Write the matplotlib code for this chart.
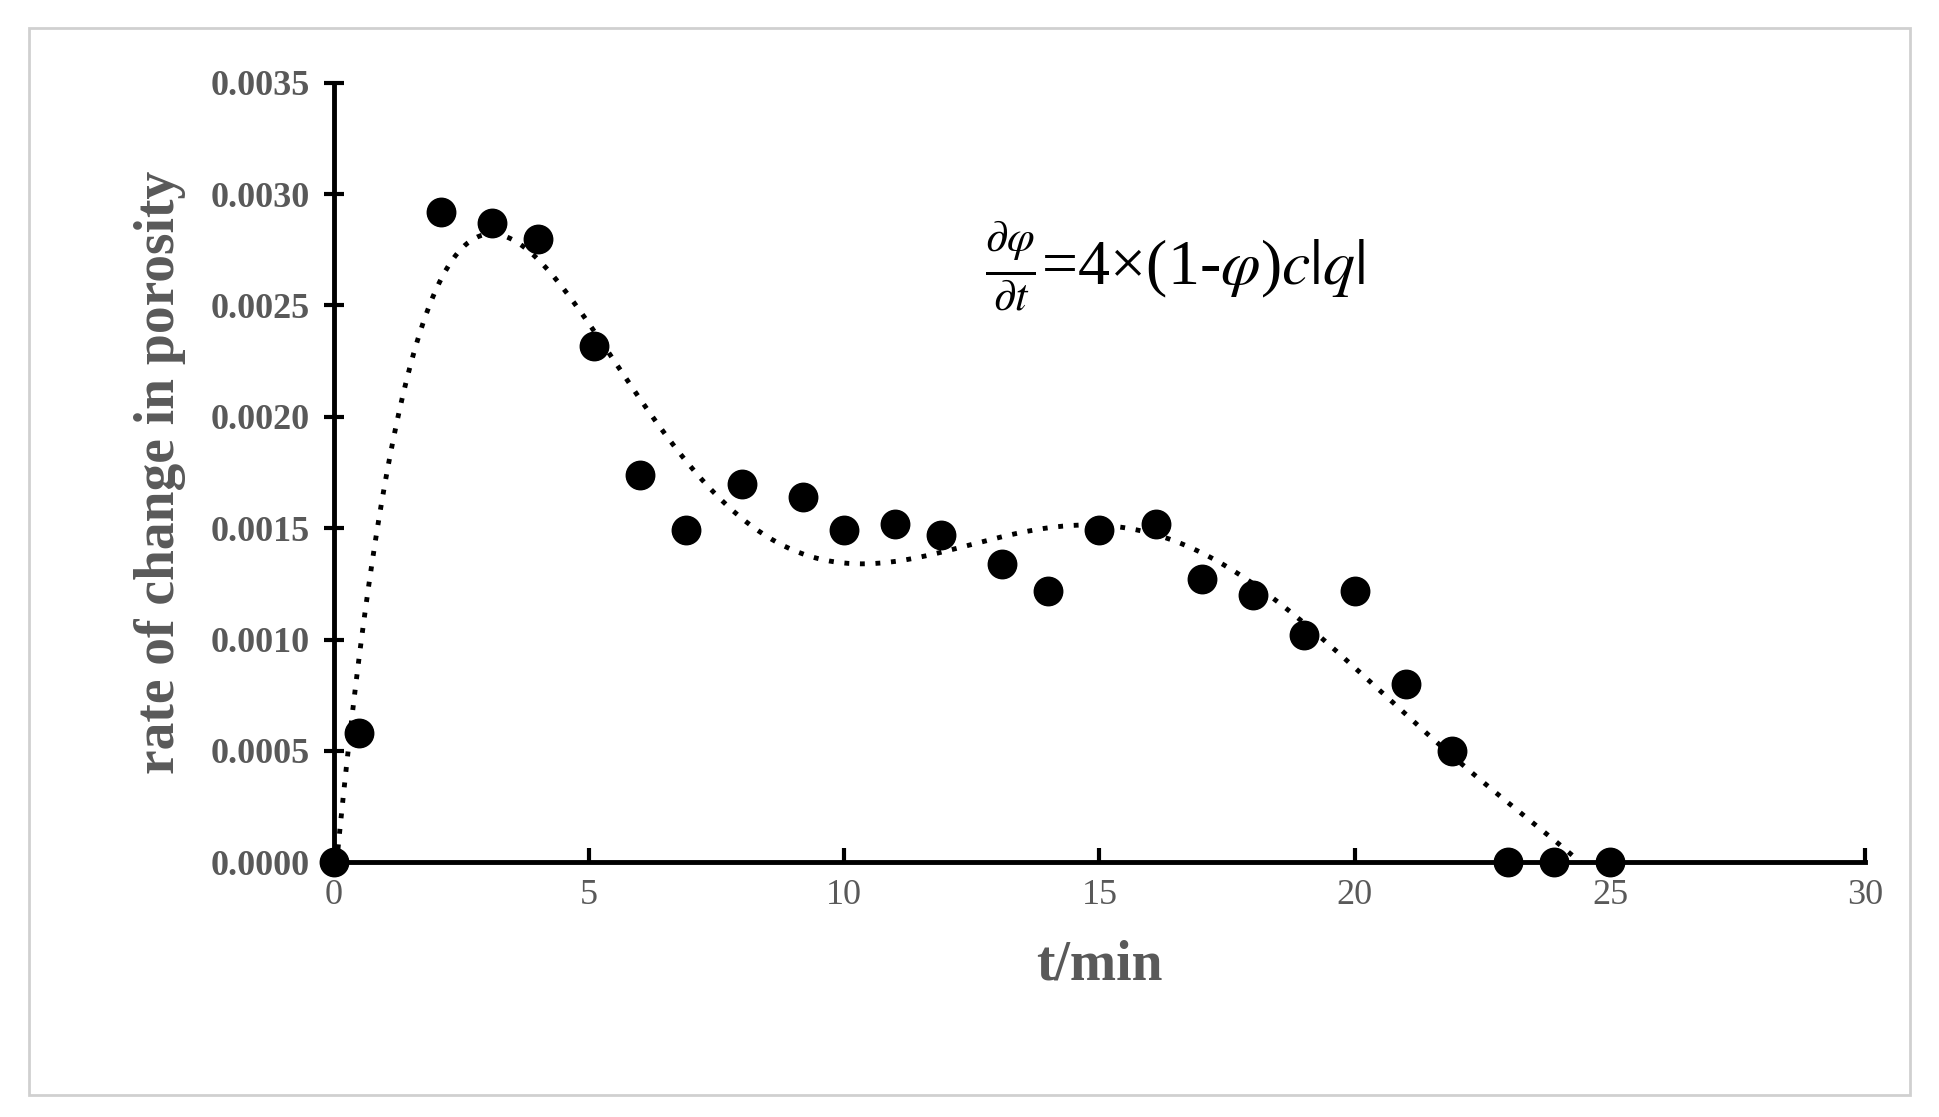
import numpy as np
import matplotlib
matplotlib.use("Agg")
import matplotlib.pyplot as plt
from matplotlib.patches import Rectangle

t_min = [0, 0.5, 2.1, 3.1, 4.0, 5.1, 6.0, 6.9, 8.0, 9.2, 10.0, 11.0, 11.9,
         13.1, 14.0, 15.0, 16.1, 17.0, 18.0, 19.0, 20.0, 21.0, 21.9, 23.0, 23.9, 25.0]
rate = [0.0, 0.00058, 0.00292, 0.00287, 0.00280, 0.00232, 0.00174, 0.00149,
        0.00170, 0.00164, 0.00149, 0.00152, 0.00147, 0.00134, 0.00122, 0.00149,
        0.00152, 0.00127, 0.00120, 0.00102, 0.00122, 0.00080, 0.00050, 0.0, 0.0, 0.0]

plt.rcParams["font.family"] = ["Liberation Serif", "DejaVu Serif"]
grey = "#595959"

fig = plt.figure(figsize=(19.39, 11.17), dpi=100)
fig.patches.append(Rectangle((0.015, 0.02), 0.97, 0.955, transform=fig.transFigure,
                             fill=False, edgecolor="#d0d0d0", linewidth=2))
ax = fig.add_axes([0.172, 0.228, 0.79, 0.698])

# polynomial trendline (order 6) fitted to the points
coef = np.polyfit(t_min, rate, 6)
xs = np.linspace(0, 25, 400)
ax.plot(xs, np.polyval(coef, xs), linestyle=(0, (1, 2.2)), color="black", linewidth=3.5)
ax.scatter(t_min, rate, s=420, color="black", zorder=3, clip_on=False)

ax.set_xlim(0, 30)
ax.set_ylim(0, 0.0035)
ax.set_xticks(range(0, 31, 5))
ax.set_yticks(np.arange(0, 0.00351, 0.0005))
ax.set_yticklabels([f"{v:.4f}" for v in np.arange(0, 0.00351, 0.0005)])
for s in ("top", "right"):
    ax.spines[s].set_visible(False)
for s in ("left", "bottom"):
    ax.spines[s].set_linewidth(3.5)
    ax.spines[s].set_color("black")
ax.spines["bottom"].set_position(("data", 0))
ax.tick_params(axis="y", direction="inout", length=14, width=3, labelsize=26,
               labelcolor=grey, pad=10)
ax.tick_params(axis="x", direction="in", length=10, width=3, labelsize=26,
               labelcolor=grey, pad=12)
for lab in ax.get_yticklabels():
    lab.set_fontweight("bold")

ax.set_xlabel("t/min", fontsize=40, fontweight="bold", color=grey, labelpad=20)
ax.set_ylabel("rate of change in porosity", fontsize=40, fontweight="bold",
              color=grey, labelpad=18)

ax.text(0.425, 0.74, r"$\frac{\partial\varphi}{\partial t}$=4×(1-$\varphi$)$c|q|$",
        transform=ax.transAxes, fontsize=46, color="black",
        math_fontfamily="stix")

fig.savefig("out.png", dpi=100)
